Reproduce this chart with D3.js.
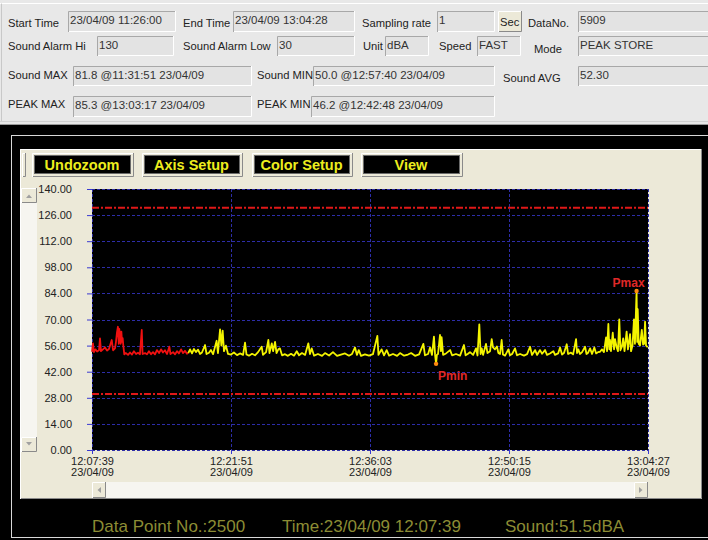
<!DOCTYPE html>
<html>
<head>
<meta charset="utf-8">
<script src="https://cdn.jsdelivr.net/npm/d3@7"></script>
<style>
body { margin: 0; background: #000; overflow: hidden; }
text { font-family: "Liberation Sans", Arial, sans-serif; }
</style>
</head>
<body>
<script>
// ---- data ----
var startTime = new Date(2009, 3, 23, 11, 26, 0);   // data point 1
var yTicks = [0, 14, 28, 42, 56, 70, 84, 98, 112, 126, 140];
var xTicks = [2500, 3352, 4204, 5056, 5908];          // data point numbers
var alarmHi = 130, alarmLow = 30;

// [data point no., dBA]
var redSeries = [[2500,52.7],[2506,57.2],[2512,52.5],[2521,54],[2531,52.8],[2543,53.5],[2549,59.9],[2555,53],[2567,54],[2580,55],
  [2592,53.3],[2604,54.2],[2621,59],[2629,53.5],[2641,54.5],[2647,58],[2653,63],[2659,66.1],[2664,57],[2667,65],
  [2672,62],[2676,57],[2680,63.5],[2684,58],[2688,60],[2692,56],[2698,51.3],[2708,52],[2721,51],[2733,52.3],
  [2745,51.2],[2757,53],[2770,51.5],[2782,52.2],[2794,51.4],[2805,64.4],[2810,51.5],[2825,52],[2837,51.3],[2849,53],
  [2862,51.4],[2874,52.5],[2886,51.3],[2898,53.6],[2911,52],[2923,54],[2935,52.3],[2947,53.5],[2960,51.5],[2974,55.4],
  [2981,51.5],[2997,52.5],[3009,51.3],[3021,53],[3033,51.8],[3046,54],[3058,52],[3070,53.2],[3082,51.6],[3090,52]];

var yellowSeries = [[3090,52],[3101,54],[3113,51.8],[3125,54.2],[3137,52.5],[3150,53.8],[3162,51.5],[3174,52.3],[3193,56.3],[3202,51.5],
  [3217,52.2],[3229,53.6],[3242,51.4],[3264,58.6],[3272,52],[3285,64.7],[3293,56],[3301,64],[3309,53],[3321,56],
  [3334,51.5],[3352,51.2],[3370,52.3],[3389,50.9],[3407,51.8],[3426,51],[3438,57.6],[3447,51.2],[3462,50.6],[3481,51.6],
  [3499,50.8],[3518,52.5],[3540,55.4],[3548,51],[3567,52.5],[3581,59],[3588,52],[3602,57.2],[3610,53],[3622,58],
  [3631,52],[3642,54],[3652,54.5],[3665,50.8],[3683,51.4],[3701,50.5],[3720,51.6],[3738,50.6],[3755,53],[3769,50.8],
  [3787,52],[3806,51],[3826,57.2],[3836,51.5],[3847,54.5],[3861,50.6],[3885,51.5],[3910,50.5],[3928,52],[3953,50.7],
  [3977,52.5],[4002,50.5],[4026,51.2],[4051,51.8],[4075,50.6],[4094,51.5],[4112,55],[4124,51],[4135,53.6],[4149,50.5],
  [4173,51.3],[4198,50.6],[4222,51.4],[4249,61.2],[4256,51],[4275,54],[4290,50.8],[4306,53.6],[4321,50.6],[4345,51.5],
  [4370,50.5],[4388,52],[4413,50.6],[4437,51.2],[4456,52],[4480,50.5],[4505,51.3],[4531,56.9],[4541,50.8],[4560,51.5],
  [4572,55],[4584,51],[4596,60.8],[4603,51],[4609,46.2],[4614,51],[4621,51.5],[4633,61.7],[4639,53],[4643,60.5],
  [4652,51],[4670,51.8],[4695,53.6],[4707,50.8],[4731,51.5],[4756,50.6],[4780,56.3],[4790,50.8],[4805,51.6],[4817,52.5],
  [4836,51],[4854,54.5],[4863,50.7],[4874,67.4],[4882,51.5],[4889,54.5],[4897,51],[4915,56.9],[4924,52],[4940,53],
  [4950,59.5],[4958,55],[4970,54],[4982,55.5],[4991,52],[5001,51.5],[5011,59],[5019,51.2],[5032,50.6],[5052,54],
  [5062,50.8],[5075,51.5],[5093,54.5],[5105,50.8],[5124,51.5],[5148,50.6],[5167,51.4],[5185,55.4],[5197,51],[5216,53.6],
  [5228,51],[5246,53.6],[5259,51.6],[5277,53.6],[5289,51],[5307,51.8],[5328,53],[5338,51],[5357,51.8],[5369,55],
  [5381,51.2],[5393,52],[5410,56.7],[5418,51.5],[5436,52.2],[5449,51.3],[5467,59.5],[5473,52],[5481,54],[5491,51.5],
  [5504,52.5],[5522,55.4],[5531,51.5],[5541,52.2],[5553,54.5],[5565,51.5],[5579,55],[5590,51.8],[5602,52.5],[5614,52.7],
  [5626,54],[5638,52.5],[5651,60.4],[5657,53],[5665,67.6],[5671,54],[5675,59],[5681,53],[5692,62.9],[5700,54],
  [5706,59.5],[5716,55],[5724,53],[5732,70.1],[5739,53.5],[5748,55.4],[5756,59.9],[5764,53],[5777,63.5],[5785,54],
  [5798,62.2],[5804,53],[5813,56],[5822,70.1],[5828,57],[5838,85.3],[5842,58],[5845,75.5],[5851,57],[5859,56],
  [5870,64.4],[5878,56.5],[5884,57],[5890,68.8],[5896,56],[5902,55.5],[5908,55.4]];

// header fields
var fieldLabels = ["Start Time", "End Time", "Sampling rate", "DataNo.",
  "Sound Alarm Hi", "Sound Alarm Low", "Unit", "Speed", "Mode",
  "Sound MAX", "Sound MIN", "Sound AVG", "PEAK MAX", "PEAK MIN"];
var fieldValues = ["23/04/09 11:26:00", "23/04/09 13:04:28", "1", "5909",
  "130", "30", "dBA", "FAST", "PEAK STORE",
  "81.8 @11:31:51 23/04/09", "50.0 @12:57:40 23/04/09", "52.30",
  "85.3 @13:03:17 23/04/09", "46.2 @12:42:48 23/04/09"];
var buttonLabels = ["Undozoom", "Axis Setup", "Color Setup", "View"];
var statusTexts = ["Data Point No.:2500", "Time:23/04/09 12:07:39", "Sound:51.5dBA"];

// ---- layout ----
// [label x, label baseline, box x, box y, box w, box h]
var fieldLayout = [
  [8, 27, 68, 11, 108, 21], [183, 27, 233, 11, 122, 21], [362, 27, 437, 11, 58, 21], [528, 27, 578, 11, 132, 21],
  [8, 50, 97, 36, 77, 20], [183, 50, 277, 36, 78, 20], [363, 50, 385, 36, 44, 20], [439, 50, 477, 36, 44, 20], [534, 53, 578, 36, 132, 20],
  [8, 79, 73, 66, 179, 20], [257, 79, 313, 66, 182, 20], [503, 82, 578, 66, 132, 20],
  [8, 108, 73, 96, 179, 21], [257, 108, 311, 96, 184, 21]];
var buttonX = [32, 142, 252, 361], buttonW = [102, 101, 101, 102];
var statusX = [92, 282, 505];

var W = 708, H = 540;
var plot = {left: 92, right: 648, top: 189, bottom: 450};
var gridBlue = "#2d2da8";

var svg = d3.select("body").append("svg")
    .attr("width", W)
    .attr("height", H);

// header panel
svg.append("rect").attr("x", 0).attr("y", 0).attr("width", W).attr("height", 125).attr("fill", "#e8e8e8");
svg.append("line").attr("x1", 0).attr("x2", W).attr("y1", 3.5).attr("y2", 3.5).attr("stroke", "#fff");
svg.append("line").attr("x1", 1.5).attr("x2", 1.5).attr("y1", 3.5).attr("y2", 121).attr("stroke", "#c8c8c8");
svg.append("line").attr("x1", 0).attr("x2", W).attr("y1", 121.5).attr("y2", 121.5).attr("stroke", "#d0d0d0");
svg.append("line").attr("x1", 0).attr("x2", W).attr("y1", 124.5).attr("y2", 124.5).attr("stroke", "#9a9a9a");

function sunken(g, x, y, w, h) {
  g.append("rect").attr("x", x).attr("y", y).attr("width", w).attr("height", h).attr("fill", "#e3e3e3");
  g.append("path").attr("d", "M" + (x + 0.5) + "," + (y + h) + "V" + (y + 0.5) + "H" + (x + w))
    .attr("fill", "none").attr("stroke", "#a8a8a8");
  g.append("path").attr("d", "M" + (x + 1) + "," + (y + h - 0.5) + "H" + (x + w - 0.5) + "V" + y)
    .attr("fill", "none").attr("stroke", "#fff");
}
function raised(g, x, y, w, h, fill) {
  g.append("rect").attr("x", x).attr("y", y).attr("width", w).attr("height", h).attr("fill", fill);
  g.append("path").attr("d", "M" + (x + 0.5) + "," + (y + h) + "V" + (y + 0.5) + "H" + (x + w))
    .attr("fill", "none").attr("stroke", "#fff");
  g.append("path").attr("d", "M" + (x + 1) + "," + (y + h - 0.5) + "H" + (x + w - 0.5) + "V" + y)
    .attr("fill", "none").attr("stroke", "#8a8a8a");
}

var header = svg.append("g");
fieldLabels.forEach(function(lab, i) {
  var L = fieldLayout[i];
  header.append("text").attr("x", L[0]).attr("y", L[1]).attr("font-size", "11.2px").attr("fill", "#222").text(lab);
  sunken(header, L[2], L[3], L[4], L[5]);
  header.append("text").attr("x", L[2] + 2).attr("y", L[3] + 13).attr("font-size", "11.5px").attr("fill", "#333")
    .text(fieldValues[i]);
});
raised(header, 498, 11, 24, 21, "#ece9d8");
header.append("text").attr("x", 500).attr("y", 26).attr("font-size", "11.2px").attr("fill", "#222").text("Sec");

// chart window
svg.append("rect").attr("x", 11.5).attr("y", 135.5).attr("width", 710).attr("height", 402)
  .attr("fill", "none").attr("stroke", "#d8d8d8");
raised(svg, 20, 149, 682, 350, "#ece9d8");

// toolbar grip + buttons
raised(svg, 22, 153, 4, 24, "#ece9d8");
buttonLabels.forEach(function(lab, i) {
  raised(svg, buttonX[i], 153, buttonW[i], 24, "#ece9d8");
  svg.append("rect").attr("x", buttonX[i] + 2.5).attr("y", 155.5).attr("width", buttonW[i] - 6).attr("height", 18)
    .attr("fill", "#000").attr("stroke", "#6a6a6a");
  svg.append("text").attr("x", buttonX[i] + buttonW[i] / 2 - 1).attr("y", 170)
    .attr("text-anchor", "middle").attr("font-size", "14.5px").attr("font-weight", "bold")
    .attr("fill", "#eded1e").text(lab);
});

// scrollbars
svg.append("rect").attr("x", 21).attr("y", 188).attr("width", 16).attr("height", 264).attr("fill", "#f6f5f0");
raised(svg, 21, 188, 16, 15, "#ece9d8");
raised(svg, 21, 437, 16, 15, "#ece9d8");
svg.append("path").attr("d", "M26,198L29,194.5L32,198Z").attr("fill", "#a0a0a0");
svg.append("path").attr("d", "M26,442L29,445.5L32,442Z").attr("fill", "#a0a0a0");
svg.append("rect").attr("x", plot.left).attr("y", 482).attr("width", plot.right - plot.left).attr("height", 16).attr("fill", "#f6f5f0");
raised(svg, plot.left, 482, 14, 16, "#ece9d8");
raised(svg, plot.right - 14, 482, 14, 16, "#ece9d8");
svg.append("path").attr("d", "M101,487L97.5,490L101,493Z").attr("fill", "#a0a0a0");
svg.append("path").attr("d", "M639,487L642.5,490L639,493Z").attr("fill", "#a0a0a0");

// scales
var x = d3.scaleLinear().domain([xTicks[0], xTicks[xTicks.length - 1]]).range([plot.left, plot.right]);
var y = d3.scaleLinear().domain([0, 140]).range([plot.bottom, plot.top]);
var pointTime = function(n) { return new Date(startTime.getTime() + (n - 1) * 1000); };
var fmtTime = d3.timeFormat("%H:%M:%S"), fmtDate = d3.timeFormat("%d/%m/%y");

svg.append("rect").attr("x", plot.left).attr("y", plot.top)
  .attr("width", plot.right - plot.left).attr("height", plot.bottom - plot.top).attr("fill", "#000");

// grid
svg.append("g").selectAll("line").data(yTicks).enter().append("line")
  .attr("x1", plot.left).attr("x2", plot.right)
  .attr("y1", d => Math.round(y(d)) + 0.5).attr("y2", d => Math.round(y(d)) + 0.5)
  .attr("stroke", gridBlue).attr("stroke-dasharray", "3,2");
svg.append("g").selectAll("line").data(xTicks).enter().append("line")
  .attr("x1", d => Math.round(x(d)) + 0.5).attr("x2", d => Math.round(x(d)) + 0.5)
  .attr("y1", plot.top).attr("y2", plot.bottom)
  .attr("stroke", gridBlue).attr("stroke-dasharray", "3,2");

// alarm limits
svg.append("g").selectAll("line").data([alarmHi, alarmLow]).enter().append("line")
  .attr("x1", plot.left).attr("x2", plot.right)
  .attr("y1", d => y(d)).attr("y2", d => y(d))
  .attr("stroke", "#e01818").attr("stroke-width", 2).attr("stroke-dasharray", "7,2,2,2");

// axes
var yAxis = svg.append("g")
  .attr("transform", "translate(" + plot.left + ",0)")
  .call(d3.axisLeft(y).tickValues(yTicks).tickFormat(d3.format(".2f")).tickSize(5).tickPadding(15));
var xAxis = svg.append("g")
  .attr("transform", "translate(0," + plot.bottom + ")")
  .call(d3.axisBottom(x).tickValues(xTicks).tickSize(4).tickPadding(3));
[yAxis, xAxis].forEach(function(a) {
  a.select(".domain").remove();
  a.selectAll(".tick line").attr("stroke", "#3a3ad0");
  a.selectAll("text").attr("font-size", "11px").attr("fill", "#222")
    .style("font-family", "'Liberation Sans', Arial, sans-serif");
});
xAxis.selectAll(".tick text").each(function(d) {
  var t = d3.select(this).text(null);
  t.append("tspan").attr("x", 0).text(fmtTime(pointTime(d)));
  t.append("tspan").attr("x", 0).attr("dy", "11px").text(fmtDate(pointTime(d)));
});

// trace
var line = d3.line().x(d => x(d[0])).y(d => y(d[1]));
svg.append("path").datum(redSeries).attr("d", line)
  .attr("fill", "none").attr("stroke", "#f01010").attr("stroke-width", 1.8).attr("stroke-linejoin", "round");
svg.append("path").datum(yellowSeries).attr("d", line)
  .attr("fill", "none").attr("stroke", "#f4f400").attr("stroke-width", 1.8).attr("stroke-linejoin", "round");

// peak markers
var pMax = d3.greatest(yellowSeries, d => d[1]);
var pMin = d3.least(yellowSeries, d => d[1]);
[pMax, pMin].forEach(function(p) {
  svg.append("circle").attr("cx", x(p[0])).attr("cy", y(p[1])).attr("r", 2.2).attr("fill", "#ff8a10");
});
svg.append("text").attr("x", x(pMax[0]) + 8).attr("y", y(pMax[1]) - 4).attr("text-anchor", "end")
  .attr("font-size", "12px").attr("font-weight", "bold").attr("fill", "#e02828").text("Pmax");
svg.append("text").attr("x", x(pMin[0]) + 2).attr("y", y(pMin[1]) + 16)
  .attr("font-size", "12px").attr("font-weight", "bold").attr("fill", "#e02828").text("Pmin");

// status line
statusTexts.forEach(function(s, i) {
  svg.append("text").attr("x", statusX[i]).attr("y", 532).attr("font-size", "17px")
    .attr("fill", "#8c8c34").text(s);
});
</script>
</body>
</html>
